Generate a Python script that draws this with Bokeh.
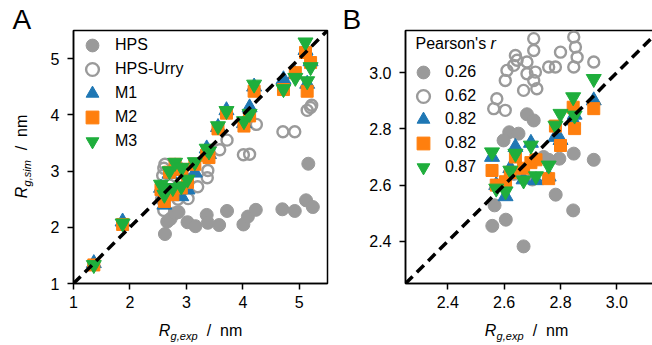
import math
from bokeh.plotting import figure
from bokeh.models import Range1d, FixedTicker, Legend, LegendItem, Label, NumeralTickFormatter
from bokeh.layouts import row, column
from bokeh.core.properties import value
from bokeh.embed import file_html
from bokeh.resources import INLINE

FONT = "Liberation Sans"
GREY = "#9a9a9a"
BLUE = "#1f77b4"
ORANGE = "#ff7f0e"
GREEN = "#1fae3c"
TXT = "black"

# ---------------- Panel A data ----------------
hps_exp_A = [2.62, 2.66, 2.72, 2.80, 2.86, 3.02, 3.16, 3.36, 3.38, 3.58, 3.72, 4.01, 4.09, 4.23, 4.70, 4.92, 5.12, 5.24, 5.16]
hps_sim_A = [1.88, 2.10, 2.15, 2.25, 2.27, 2.09, 2.02, 2.22, 2.08, 2.04, 2.29, 2.05, 2.19, 2.31, 2.32, 2.29, 2.48, 2.36, 3.13]

urry_exp_A = [2.56, 2.60, 2.58, 2.60, 2.62, 2.70, 2.85, 3.03, 3.20, 3.37, 3.38, 3.59, 3.72, 4.01, 4.12, 4.24, 4.71, 4.92, 5.14, 5.20, 5.22]
urry_sim_A = [2.50, 2.30, 2.92, 3.05, 3.12, 2.75, 2.50, 2.51, 2.72, 2.88, 3.01, 3.38, 3.55, 3.29, 3.30, 3.83, 3.70, 3.70, 4.08, 4.13, 4.17]

m_exp_A = [1.36, 1.87, 2.55, 2.61, 2.62, 2.70, 2.76, 2.80, 2.91, 2.92, 3.02, 3.15, 3.36, 3.40, 3.56, 3.71, 4.02, 4.12, 4.20, 4.72, 4.93, 5.11, 5.14, 5.20]
m1_sim_A = [1.36, 2.10, 2.70, 2.40, 2.60, 2.95, 2.62, 3.08, 2.55, 3.00, 2.67, 2.97, 3.40, 3.30, 3.78, 4.08, 3.85, 4.13, 4.50, 4.63, 4.72, 5.15, 4.55, 4.95]
m2_sim_A = [1.33, 2.05, 2.67, 2.46, 2.62, 2.98, 2.58, 3.12, 2.70, 3.03, 2.80, 3.12, 3.28, 3.24, 3.75, 4.03, 3.80, 3.98, 4.42, 4.45, 4.75, 5.11, 4.42, 4.93]
m3_sim_A = [1.33, 2.07, 2.76, 2.58, 2.70, 3.00, 2.70, 3.15, 2.73, 3.06, 2.85, 3.16, 3.40, 3.35, 3.80, 4.07, 3.89, 4.02, 4.54, 4.46, 4.66, 5.29, 4.60, 4.85]

labels_A = ["HPS", "HPS-Urry", "M1", "M2", "M3"]
ticks_A = [1, 2, 3, 4, 5]
range_A = [1.0, 5.5]

# ---------------- Panel B data ----------------
hps_exp_B = [2.681, 2.705, 2.618, 2.651, 2.598, 2.847, 2.918, 2.796, 2.758, 2.783, 2.845, 2.566, 2.606, 2.558, 2.669, 2.635, 2.700, 2.740]
hps_sim_B = [2.852, 2.830, 2.788, 2.783, 2.759, 2.712, 2.690, 2.694, 2.690, 2.566, 2.510, 2.528, 2.477, 2.455, 2.382, 2.640, 2.620, 2.700]

urry_exp_B = [2.705, 2.705, 2.847, 2.853, 2.859, 2.800, 2.640, 2.646, 2.681, 2.634, 2.918, 2.758, 2.782, 2.847, 2.610, 2.681, 2.711, 2.604, 2.705, 2.669, 2.716, 2.574, 2.563, 2.604]
urry_sim_B = [3.121, 3.079, 3.127, 3.091, 3.055, 3.073, 3.061, 3.044, 3.038, 3.026, 3.038, 3.020, 3.020, 3.020, 3.008, 2.996, 3.002, 2.972, 2.972, 2.937, 2.943, 2.907, 2.872, 2.866]

m_exp_B = [2.557, 2.572, 2.605, 2.622, 2.640, 2.669, 2.695, 2.713, 2.758, 2.782, 2.800, 2.845, 2.850, 2.918]
m1_sim_B = [2.700, 2.600, 2.560, 2.660, 2.735, 2.620, 2.750, 2.617, 2.630, 2.771, 2.760, 2.830, 2.850, 2.901]
m2_sim_B = [2.652, 2.600, 2.612, 2.645, 2.700, 2.660, 2.680, 2.690, 2.623, 2.810, 2.741, 2.877, 2.801, 2.872]
m3_sim_B = [2.717, 2.588, 2.578, 2.652, 2.712, 2.617, 2.741, 2.632, 2.670, 2.812, 2.854, 2.913, 2.848, 2.978]

labels_B = ["0.26", "0.62", "0.82", "0.82", "0.87"]
legend_title_B = ["Pearson's", "r"]
ticks_B = [2.4, 2.6, 2.8, 3.0]
xrange_B = [2.25, 3.13]
yrange_B = [2.25, 3.15]

panel_letters = ["A", "B"]
axis_words = ["R", "/", "nm"]
xlab_sub = "g,exp"
ylab_sub = "g,sim"

# ---------------- layout constants (pixels) ----------------
TOP_B = 30          # space above the frames
LEFT_W = 40         # strip holding the y label and "A"
MID_W = 26          # strip between the panels holding "B"
FH = 253            # frame height
BOT_B = 32          # bottom border of main figures (tick labels)
BOT_H = 28          # strip holding the x labels
A_BL, A_FW, A_BR = 33, 254, 13
B_BL, B_FW, B_BR = 36, 248, 1
ROW_H = TOP_B + FH + BOT_B
W_TOTAL = LEFT_W + A_BL + A_FW + A_BR + MID_W + B_BL + B_FW + B_BR
FS_PX = 16
SUB_PX = 11
LET_PX = 28
FS = f"{FS_PX}px"
SUBFS = f"{SUB_PX}px"
MID = 0.35          # baseline -> em-box middle, in font sizes


def make_fig(xr, yr, fw, mbl, mbr, ticks, fmt=None):
    p = figure(frame_width=fw, frame_height=FH, title=None,
               x_range=Range1d(*xr), y_range=Range1d(*yr),
               output_backend="svg", toolbar_location=None,
               min_border_left=mbl, min_border_right=mbr,
               min_border_top=TOP_B, min_border_bottom=BOT_B)
    p.grid.visible = False
    p.outline_line_color = "black"
    p.outline_line_width = 1.5
    p.background_fill_color = "white"
    p.border_fill_color = "white"
    for ax in (p.xaxis[0], p.yaxis[0]):
        ax.ticker = FixedTicker(ticks=ticks)
        ax.minor_tick_line_color = None
        ax.major_tick_in = 0
        ax.major_tick_out = 6
        ax.major_tick_line_width = 1.5
        ax.axis_line_width = 1.5
        ax.axis_line_color = "black"
        ax.major_tick_line_color = "black"
        ax.major_label_text_font = FONT
        ax.major_label_text_font_size = FS
        ax.major_label_text_color = TXT
        if fmt:
            ax.formatter = NumeralTickFormatter(format=fmt)
    p.xaxis.major_label_standoff = 6
    p.yaxis.major_label_standoff = 8
    return p


def strip(w, h):
    s = figure(frame_width=w, frame_height=h, title=None,
               x_range=Range1d(0, w), y_range=Range1d(0, h),
               output_backend="svg", toolbar_location=None, min_border=0,
               x_axis_location=None, y_axis_location=None)
    s.grid.visible = False
    s.outline_line_color = None
    s.background_fill_color = "white"
    s.border_fill_color = "white"
    return s


def add_series(p, ex_h, sm_h, ex_u, sm_u, ex_m, m1, m2, m3):
    r_h = p.scatter(ex_h, sm_h, marker="circle", size=13, fill_color=GREY, line_color=GREY)
    r_u = p.scatter(ex_u, sm_u, marker="circle", size=11, fill_color=None, line_color=GREY, line_width=2.4)
    r_1 = p.scatter(ex_m, m1, marker="triangle", size=15, fill_color=BLUE, line_color=BLUE)
    r_2 = p.scatter(ex_m, m2, marker="square", size=12, fill_color=ORANGE, line_color=ORANGE)
    r_3 = p.scatter(ex_m, m3, marker="inverted_triangle", size=15, fill_color=GREEN, line_color=GREEN)
    return [r_h, r_u, r_1, r_2, r_3]


LG = 32  # legend glyph box; Bokeh draws legend markers at ~0.4 of it


def add_legend(p, renderers, labels, x_loc, first_center, step, standoff):
    # one single-row legend per entry so that rows can be closer than the glyph box
    for i, (l, r) in enumerate(zip(labels, renderers)):
        centre_from_top = first_center + step * i
        loc_y = int(round(FH - centre_from_top - LG / 2))
        lg = Legend(items=[LegendItem(label=l, renderers=[r])], location=(x_loc, loc_y))
        lg.border_line_color = None
        lg.background_fill_alpha = 0
        lg.padding = 0
        lg.margin = 0
        lg.spacing = 0
        lg.glyph_width = LG
        lg.glyph_height = LG
        lg.label_height = 20
        lg.label_standoff = standoff
        lg.label_text_font = FONT
        lg.label_text_font_size = FS
        lg.label_text_color = TXT
        lg.label_text_baseline = "middle"
        p.add_layout(lg)


# piece offsets along a label "R_{sub}  /  nm" (pixels from its start)
OFF_R, OFF_SUB, OFF_SLASH, OFF_NM, LAB_LEN = 0.0, 11.8, 48.0, 61.3, 83.4
SUB_DROP = 3.5

# ---------------- Panel A ----------------
pA = make_fig(range_A, range_A, A_FW, A_BL, A_BR, ticks_A)
rA = add_series(pA, hps_exp_A, hps_sim_A, urry_exp_A, urry_sim_A, m_exp_A, m1_sim_A, m2_sim_A, m3_sim_A)
pA.line(range_A, range_A, line_color="black", line_width=3.5, line_dash="10 6")
add_legend(pA, rA, labels_A, 3, 15, 24, 7)

# ---------------- Panel B ----------------
pB = make_fig(xrange_B, yrange_B, B_FW, B_BL, B_BR, ticks_B, fmt="0.0")
rB = add_series(pB, hps_exp_B, hps_sim_B, urry_exp_B, urry_sim_B, m_exp_B, m1_sim_B, m2_sim_B, m3_sim_B)
pB.line(yrange_B, yrange_B, line_color="black", line_width=3.5, line_dash="10 6")
add_legend(pB, rB, labels_B, 2, 42, 23.7, 6)
pB.add_layout(Label(x=xrange_B[0], y=yrange_B[1], x_offset=10, y_offset=-21, text=legend_title_B[0],
                    text_font=FONT, text_font_size=FS, text_color=TXT))
pB.add_layout(Label(x=xrange_B[0], y=yrange_B[1], x_offset=85, y_offset=-21, text=legend_title_B[1],
                    text_font_style="italic", text_font=FONT, text_font_size=FS, text_color=TXT))

# ---------------- frame positions on the page ----------------
A_left = LEFT_W + A_BL
B_left = LEFT_W + A_BL + A_FW + A_BR + MID_W + B_BL
A_center = A_left + A_FW / 2
B_center = B_left + B_FW / 2

# ---------------- letters: baseline just above the frame tops ----------------
letter_y = ROW_H - (TOP_B - 1) + MID * LET_PX

# left strip: "A" and the y label
left = strip(LEFT_W, ROW_H)
left.text(x=[12], y=[letter_y], text=[panel_letters[0]],
          text_font=value(FONT), text_font_size=value(f"{LET_PX}px"), text_color=TXT,
          text_align="left", text_baseline="middle")
y_center_from_bottom = BOT_B + FH / 2 + 0.5
y0 = y_center_from_bottom - LAB_LEN / 2
bx = 27
xc_main = bx - MID * FS_PX
xc_sub = bx + SUB_DROP - MID * SUB_PX
rot = math.pi / 2
left.text(x=[xc_main], y=[y0 + OFF_R], text=[axis_words[0]], angle=rot, text_font=value(FONT), text_font_size=value(FS),
          text_font_style="italic", text_color=TXT, text_align="left", text_baseline="middle")
left.text(x=[xc_sub], y=[y0 + OFF_SUB], text=[ylab_sub], angle=rot, text_font=value(FONT), text_font_size=value(SUBFS),
          text_font_style="italic", text_color=TXT, text_align="left", text_baseline="middle")
left.text(x=[xc_main, xc_main], y=[y0 + OFF_SLASH, y0 + OFF_NM], text=axis_words[1:], angle=rot, text_font=value(FONT),
          text_font_size=value(FS), text_color=TXT, text_align="left", text_baseline="middle")

# middle strip: "B"
mid = strip(MID_W, ROW_H)
mid.text(x=[2], y=[letter_y], text=[panel_letters[1]],
         text_font=value(FONT), text_font_size=value(f"{LET_PX}px"), text_color=TXT,
         text_align="left", text_baseline="middle")

# bottom strip: x labels of both panels
bot = strip(W_TOTAL, BOT_H)
base_y = 7
yc_main = base_y + MID * FS_PX
yc_sub = base_y - SUB_DROP + MID * SUB_PX
for c in (A_center, B_center):
    s0 = c - LAB_LEN / 2
    bot.text(x=[s0 + OFF_R], y=[yc_main], text=[axis_words[0]], text_font=value(FONT), text_font_size=value(FS),
             text_font_style="italic", text_color=TXT, text_align="left", text_baseline="middle")
    bot.text(x=[s0 + OFF_SUB], y=[yc_sub], text=[xlab_sub], text_font=value(FONT), text_font_size=value(SUBFS),
             text_font_style="italic", text_color=TXT, text_align="left", text_baseline="middle")
    bot.text(x=[s0 + OFF_SLASH, s0 + OFF_NM], y=[yc_main, yc_main], text=axis_words[1:], text_font=value(FONT),
             text_font_size=value(FS), text_color=TXT, text_align="left", text_baseline="middle")

# wrapping the panels in columns keeps Bokeh from aligning the strips' frames with theirs
layout = column(row(left, column(pA), mid, column(pB)), bot)
open("out.html", "w").write(file_html(layout, INLINE))
